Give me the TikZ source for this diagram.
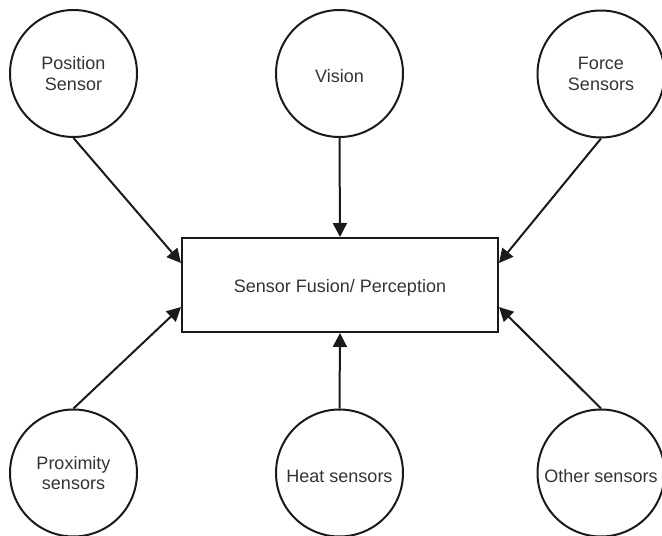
\documentclass[tikz,border=0pt]{standalone}
\usepackage{fontspec}
\setmainfont{Liberation Sans}
\usetikzlibrary{arrows.meta}
\definecolor{linec}{HTML}{1A1A1A}
\definecolor{textc}{HTML}{333333}
\newcommand{\lowtxt}[1]{\raisebox{-3pt}[\height][\depth]{#1}}
\tikzset{
  sensor/.style={circle, draw=linec, line width=2pt, minimum size=127pt, inner sep=0pt,
    align=center, text=textc, font=\fontsize{18}{20.5}\selectfont},
  fusion/.style={rectangle, draw=linec, line width=2pt, minimum width=316pt, minimum height=94pt,
    inner sep=0pt, text=textc, font=\fontsize{18}{20.5}\selectfont},
  conn/.style={draw=linec, line width=2pt, -{Triangle[length=14pt,width=14pt]}}
}
\begin{document}
\begin{tikzpicture}[x=1pt,y=-1pt]
\useasboundingbox (0,0) rectangle (662,536);
\node[fusion] (f) at (340,285) {\lowtxt{Sensor Fusion/ Perception}};
\node[sensor] (pos) at (73.5,73.5) {Position\\Sensor};
\node[sensor] (vis) at (339.5,73.5) {\lowtxt{Vision}};
\node[sensor] (frc) at (601,74) {Force\\Sensors};
\node[sensor] (prx) at (73.5,473) {Proximity\\sensors};
\node[sensor] (heat) at (339.5,473) {\lowtxt{Heat sensors}};
\node[sensor] (oth) at (601,473) {\lowtxt{Other sensors}};
\draw[conn] (pos.south) -- ([yshift=22pt]f.west);
\draw[conn] (vis.south) -- (f.north);
\draw[conn] (frc.south) -- ([yshift=22pt]f.east);
\draw[conn] (prx.north) -- ([yshift=-22pt]f.west);
\draw[conn] (heat.north) -- (f.south);
\draw[conn] (oth.north) -- ([yshift=-22pt]f.east);
\end{tikzpicture}
\end{document}
